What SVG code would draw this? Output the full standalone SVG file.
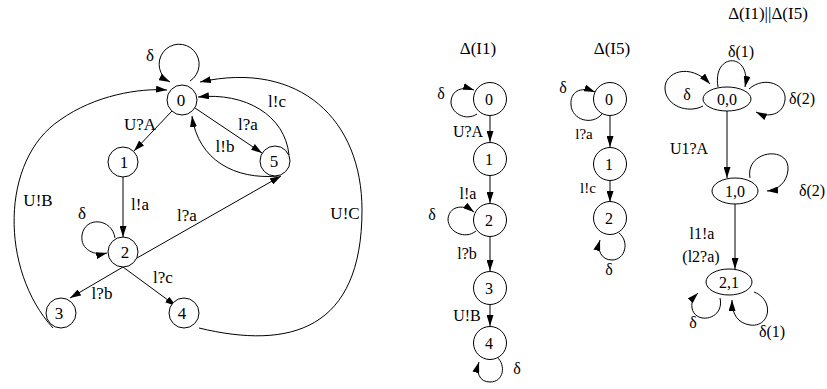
<svg xmlns="http://www.w3.org/2000/svg" width="827" height="389" viewBox="0 0 827 389" font-family="'Liberation Serif', 'Times New Roman', serif">
<style>
text{font-family:'Liberation Serif','Times New Roman',serif;font-size:17px;fill:#000;text-anchor:middle}
.s{font-size:16px}
.xs{font-size:15px}
.n{fill:#fff;stroke:#000;stroke-width:1}
.e{fill:none;stroke:#000;stroke-width:1;marker-end:url(#ah)}
</style>
<defs>
<marker id="ah" viewBox="0 0 11 7" refX="11" refY="3.5" markerWidth="11" markerHeight="7" markerUnits="userSpaceOnUse" orient="auto"><path d="M0,0 L11,3.5 L0,7 z" fill="#000"/></marker>
</defs>
<rect width="827" height="389" fill="#fff"/>

<g id="connectors">
<path class="e" d="M190,81 A20 20 0 1 0 170,82"/>
<path class="e" d="M172,111 L134,151"/>
<path class="e" d="M195,108 L262,153"/>
<path class="e" d="M289,155 C285,115 245,92 198,97"/>
<path class="e" d="M278,176 C235,180 198,160 192,116"/>
<path class="e" d="M123,177 L123,237"/>
<path class="e" d="M137,258 L281,176"/>
<path class="e" d="M115,238 C112,218 85,216 82,235 C80,250 95,256 107,253"/>
<path class="e" d="M123,267 L70,298"/>
<path class="e" d="M123,267 L176,306"/>
<path class="e" d="M53,328 C0,270 0,160 60,120 C95,95 140,88 167,90"/>
<path class="e" d="M199,328 C290,350 362,330 362,210 C362,120 300,60 200,82"/>
<path class="e" d="M477,114 C465,122 450,112 451,101 C452,90 462,86 474,90"/>
<path class="e" d="M490,116 L490,142"/>
<path class="e" d="M490,176 L490,203"/>
<path class="e" d="M476,231 C465,240 448,232 448,219 C449,207 462,203 474,212"/>
<path class="e" d="M490,237 L490,271"/>
<path class="e" d="M490,305 L490,326"/>
<path class="e" d="M497,357 C506,365 504,382 490,382 C479,382 476,372 479,362"/>
<path class="e" d="M602,114 C592,126 572,120 571,105 C570,92 580,86 595,92"/>
<path class="e" d="M610,116 L610,147"/>
<path class="e" d="M610,181 L610,202"/>
<path class="e" d="M619,233 C630,242 625,260 612,260 C601,260 597,250 600,240"/>
<path class="e" d="M718,87 C712,52 752,52 745,87"/>
<path class="e" d="M703,106 C688,114 666,106 665,89 C664,72 690,62 710,84"/>
<path class="e" d="M749,89 C765,75 787,85 785,100 C783,115 768,118 756,112"/>
<path class="e" d="M727,111 L727,178"/>
<path class="e" d="M750,178 C745,150 790,145 788,170 C787,182 778,190 767,191"/>
<path class="e" d="M735,204 L735,269"/>
<path class="e" d="M720,298 C725,320 695,325 692,308 C691,301 694,297 698,293"/>
<path class="e" d="M754,292 C775,300 770,328 750,325 C738,323 732,315 732,300"/>
</g>

<g id="L0"><circle class="n" cx="182" cy="100" r="15"/><text x="181" y="106">0</text></g>
<g id="L1"><circle class="n" cx="123" cy="162" r="15"/><text x="124" y="168">1</text></g>
<g id="L5"><circle class="n" cx="275" cy="161" r="15"/><text x="274" y="167">5</text></g>
<g id="L2"><circle class="n" cx="123" cy="252" r="15"/><text x="125" y="258">2</text></g>
<g id="L3"><circle class="n" cx="61" cy="313" r="15"/><text x="59" y="319">3</text></g>
<g id="L4"><circle class="n" cx="184" cy="313" r="15"/><text x="182" y="319">4</text></g>
<g id="Llabels">
<text x="150" y="61">δ</text>
<text x="140" y="130">U?A</text>
<text x="248" y="130">l?a</text>
<text x="277" y="107">l!c</text>
<text x="225" y="152">l!b</text>
<text x="140" y="210">l!a</text>
<text x="82" y="219">δ</text>
<text x="187" y="221">l?a</text>
<text x="102" y="299">l?b</text>
<text x="163" y="283">l?c</text>
<text x="38" y="206">U!B</text>
<text x="345" y="219">U!C</text>
</g>

<g id="A0"><circle class="n" cx="490" cy="99" r="16.5"/><text class="s" x="489" y="105">0</text></g>
<g id="A1"><circle class="n" cx="490" cy="159" r="16.5"/><text class="s" x="489" y="165">1</text></g>
<g id="A2"><circle class="n" cx="490" cy="220" r="16.5"/><text class="s" x="489" y="226">2</text></g>
<g id="A3"><circle class="n" cx="490" cy="288" r="16.5"/><text class="s" x="489" y="294">3</text></g>
<g id="A4"><circle class="n" cx="490" cy="343" r="16.5"/><text class="s" x="489" y="349">4</text></g>
<g id="Alabels">
<text x="478" y="54">Δ(I1)</text>
<text class="s" x="441" y="99">δ</text>
<text class="s" x="468" y="137">U?A</text>
<text class="s" x="468" y="199">l!a</text>
<text class="s" x="432" y="220">δ</text>
<text class="s" x="467" y="259">l?b</text>
<text class="s" x="467" y="321">U!B</text>
<text class="s" x="517" y="374">δ</text>
</g>

<g id="B0"><circle class="n" cx="610" cy="99" r="16.5"/><text class="s" x="609" y="105">0</text></g>
<g id="B1"><circle class="n" cx="610" cy="164" r="16.5"/><text class="s" x="609" y="170">1</text></g>
<g id="B2"><circle class="n" cx="610" cy="218" r="16.5"/><text class="s" x="609" y="224">2</text></g>
<g id="Blabels">
<text x="612" y="54">Δ(I5)</text>
<text class="s" x="563" y="93">δ</text>
<text class="xs" x="584" y="139">l?a</text>
<text class="xs" x="588" y="193">l!c</text>
<text class="s" x="609" y="275">δ</text>
</g>

<g id="P00"><ellipse class="n" cx="727" cy="99" rx="24" ry="12"/><text class="s" x="727" y="105">0,0</text></g>
<g id="P10"><ellipse class="n" cx="735" cy="191" rx="23" ry="13"/><text class="s" x="735" y="197">1,0</text></g>
<g id="P21"><ellipse class="n" cx="729" cy="282" rx="23" ry="13"/><text class="s" x="729" y="288">2,1</text></g>
<g id="Plabels">
<text x="768" y="19">Δ(I1)||Δ(I5)</text>
<text class="s" x="741" y="57">δ(1)</text>
<text class="s" x="687" y="100">δ</text>
<text class="s" x="802" y="104">δ(2)</text>
<text class="s" x="689" y="154">U1?A</text>
<text class="s" x="812" y="196">δ(2)</text>
<text class="s" x="702" y="239">l1!a</text>
<text class="s" x="701" y="262">(l2?a)</text>
<text class="s" x="693" y="328">δ</text>
<text class="s" x="772" y="337">δ(1)</text>
</g>
</svg>
